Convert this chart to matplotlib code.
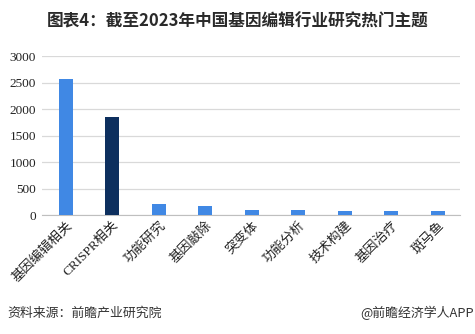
import matplotlib.pyplot as plt
import numpy as np

plt.rcParams['font.family'] = ['Liberation Serif', 'Noto Sans CJK SC', 'DejaVu Sans']

topics = ["基因编辑相关", "CRISPR相关", "功能研究", "基因敲除", "突变体",
          "功能分析", "技术构建", "基因治疗", "斑马鱼"]
counts = [2570, 1850, 210, 170, 100, 100, 75, 75, 75]
yticks = [0, 500, 1000, 1500, 2000, 2500, 3000]

light = "#4088E4"
dark = "#0D2F5E"
colors = [light, dark] + [light] * (len(topics) - 2)

fig = plt.figure(figsize=(4.75, 3.34), dpi=100)
ax = fig.add_axes([0.088, 0.356, 0.88, 0.476])

x = np.arange(len(topics))
ax.bar(x, counts, width=0.3, color=colors, zorder=3)

ax.set_xlim(-0.52, len(topics) - 0.53)
ax.set_ylim(0, 3000)
ax.set_yticks(yticks)
ax.set_yticklabels([str(v) for v in yticks], fontsize=9.5)
ax.set_xticks(x)
ax.set_xticklabels(topics, rotation=45, ha='right', va='top', fontsize=9.5,
                   rotation_mode='anchor')
ax.grid(axis='y', color='#d9d9d9', linewidth=0.9, zorder=0)
for s in ['top', 'right', 'left']:
    ax.spines[s].set_visible(False)
ax.spines['bottom'].set_color('#bfbfbf')
ax.tick_params(axis='both', length=0, pad=4, colors='#222222')
ax.tick_params(axis='x', pad=3)

fig.text(0.5, 0.935, "图表4：截至2023年中国基因编辑行业研究热门主题",
         ha='center', va='center', fontsize=12, fontweight='bold',
         family=['Noto Sans CJK SC', 'DejaVu Sans'], color='#2a2a2a')
fig.text(0.015, 0.062, "资料来源：前瞻产业研究院", ha='left', va='center',
         fontsize=9.3, family=['Noto Sans CJK SC', 'DejaVu Sans'], color='#333333')
fig.text(0.997, 0.062, "@前瞻经济学人APP", ha='right', va='center',
         fontsize=9.3, family=['Noto Sans CJK SC', 'DejaVu Sans'], color='#333333')

fig.savefig("out.png", dpi=100)
